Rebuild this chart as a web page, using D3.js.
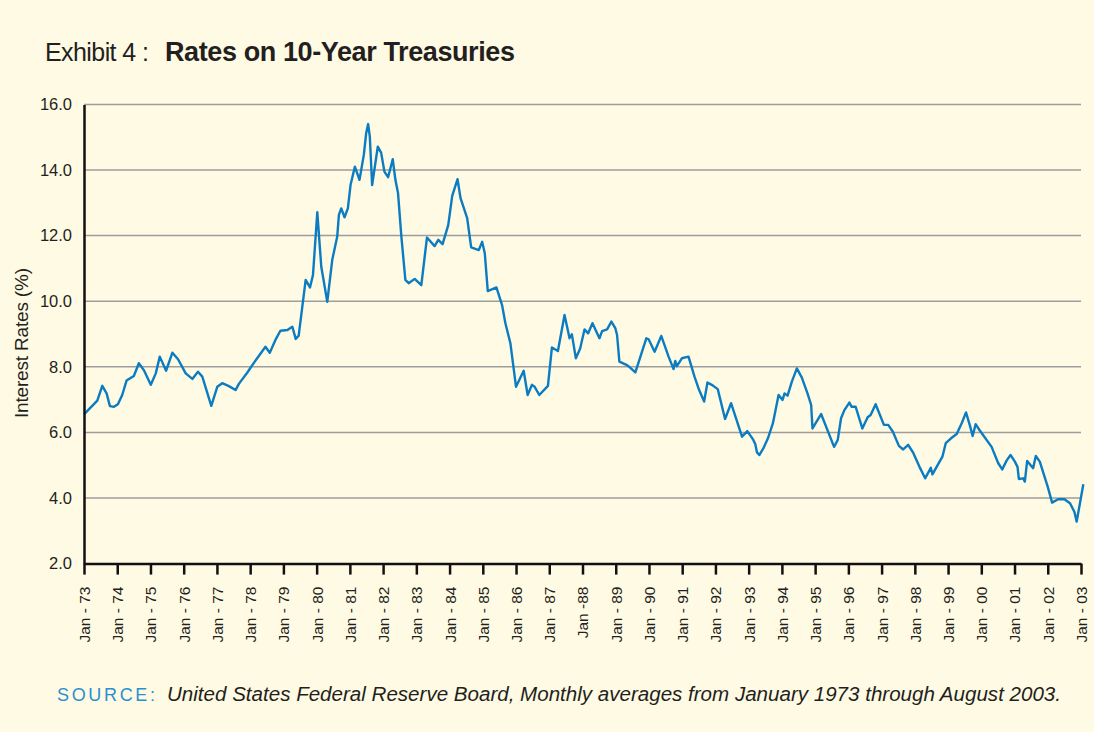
<!DOCTYPE html>
<html lang="en">
<head>
<meta charset="UTF-8">
<title>Rates on 10-Year Treasuries</title>
<script src="https://d3js.org/d3.v7.min.js"></script>
<style>
  body { margin: 0; background: #fffae3; }
  .line { fill: none; stroke: #0b7cc1; stroke-width: 2.4px; stroke-linejoin: round; }
  .grid line { stroke: #9d9d9d; stroke-width: 1.5px; }
  .axis path, .axis line { stroke: #111; stroke-width: 2.5px; }
  .axis text { font-family: "Liberation Sans Narrow", "Liberation Sans", sans-serif; font-size: 15.5px; fill: #231f20; }
  .y-axis text { font-size: 16.5px; }
</style>
</head>
<body>
<div id="chart"></div>
<script>
// vertices of the monthly series (decimal year, percent)
const dates = [
  1973.00, 1973.40, 1973.55, 1973.68, 1973.78, 1973.90,
  1974.02, 1974.15, 1974.28, 1974.50, 1974.65, 1974.80,
  1975.01, 1975.16, 1975.28, 1975.47, 1975.66, 1975.83,
  1976.06, 1976.26, 1976.43, 1976.56, 1976.83,
  1977.01, 1977.16, 1977.36, 1977.56, 1977.66, 1977.91,
  1978.09, 1978.26, 1978.46, 1978.59, 1978.76, 1978.91,
  1979.12, 1979.27, 1979.37, 1979.46, 1979.67, 1979.80, 1979.89,
  1980.02, 1980.14, 1980.32, 1980.47, 1980.62, 1980.67, 1980.74, 1980.84, 1980.94,
  1981.02, 1981.15, 1981.29, 1981.42, 1981.49, 1981.55, 1981.60, 1981.67, 1981.84, 1981.94,
  1982.04, 1982.15, 1982.29, 1982.37, 1982.45, 1982.55, 1982.67, 1982.77, 1982.95,
  1983.15, 1983.32, 1983.55, 1983.66, 1983.79, 1983.96,
  1984.08, 1984.24, 1984.33, 1984.53, 1984.65, 1984.88, 1984.98,
  1985.06, 1985.15, 1985.41, 1985.58, 1985.68, 1985.83,
  1986.00, 1986.23, 1986.35, 1986.48, 1986.56, 1986.70, 1986.96,
  1987.08, 1987.26, 1987.46, 1987.61, 1987.68, 1987.80, 1987.93,
  1988.06, 1988.17, 1988.30, 1988.51, 1988.59, 1988.74, 1988.87, 1988.99,
  1989.04, 1989.11, 1989.34, 1989.44, 1989.59, 1989.76, 1989.92, 1989.99,
  1990.17, 1990.37, 1990.59, 1990.74, 1990.79, 1990.84, 1990.99,
  1991.19, 1991.37, 1991.51, 1991.66, 1991.76, 1991.89,
  1992.07, 1992.29, 1992.47, 1992.80, 1992.96,
  1993.14, 1993.20, 1993.25, 1993.32, 1993.45, 1993.58, 1993.73, 1993.90,
  1994.02, 1994.08, 1994.17, 1994.30, 1994.45, 1994.60, 1994.77, 1994.88, 1994.92,
  1995.18, 1995.57, 1995.68, 1995.78, 1995.88,
  1996.03, 1996.10, 1996.22, 1996.42, 1996.58, 1996.67, 1996.82,
  1997.07, 1997.20, 1997.34, 1997.52, 1997.65, 1997.80, 1997.95,
  1998.16, 1998.31, 1998.48, 1998.53, 1998.69, 1998.83, 1998.93,
  1999.09, 1999.26, 1999.41, 1999.54, 1999.66, 1999.74, 1999.83, 1999.96,
  2000.31, 2000.51, 2000.63, 2000.76, 2000.88,
  2001.01, 2001.09, 2001.13, 2001.26, 2001.31, 2001.38, 2001.56, 2001.64, 2001.76,
  2002.00, 2002.13, 2002.31, 2002.50, 2002.67, 2002.80, 2002.87,
  2003.07
];
const rates = [
  6.55, 6.97, 7.42, 7.19, 6.80, 6.78,
  6.86, 7.14, 7.58, 7.72, 8.11, 7.90,
  7.45, 7.80, 8.31, 7.88, 8.43, 8.23,
  7.80, 7.63, 7.85, 7.70, 6.81,
  7.39, 7.50, 7.41, 7.29, 7.48, 7.82,
  8.09, 8.33, 8.61, 8.43, 8.82, 9.10,
  9.12, 9.22, 8.85, 8.95, 10.65, 10.42, 10.80,
  12.71, 11.05, 9.98, 11.26, 11.97, 12.63, 12.83, 12.56, 12.83,
  13.54, 14.10, 13.70, 14.46, 15.12, 15.40, 15.02, 13.54, 14.71, 14.53,
  13.95, 13.78, 14.33, 13.70, 13.29, 11.97, 10.65, 10.55, 10.68,
  10.49, 11.94, 11.68, 11.87, 11.74, 12.32,
  13.21, 13.72, 13.14, 12.53, 11.64, 11.56, 11.81,
  11.46, 10.31, 10.42, 9.88, 9.33, 8.72,
  7.39, 7.88, 7.14, 7.45, 7.39, 7.14, 7.42,
  8.59, 8.48, 9.58, 8.87, 8.99, 8.26, 8.56,
  9.14, 9.02, 9.33, 8.87, 9.09, 9.14, 9.38, 9.17,
  8.97, 8.16, 8.05, 7.97, 7.83, 8.36, 8.87, 8.84,
  8.46, 8.94, 8.31, 7.93, 8.18, 8.02, 8.26,
  8.31, 7.70, 7.29, 6.94, 7.52, 7.45,
  7.32, 6.41, 6.89, 5.87, 6.04,
  5.77, 5.64, 5.39, 5.31, 5.53, 5.82, 6.28, 7.14,
  6.99, 7.19, 7.12, 7.55, 7.95, 7.67, 7.19, 6.84, 6.12,
  6.56, 5.56, 5.77, 6.43, 6.68,
  6.91, 6.78, 6.78, 6.12, 6.46, 6.53, 6.86,
  6.23, 6.23, 6.02, 5.59, 5.48, 5.62, 5.38,
  4.91, 4.60, 4.92, 4.72, 5.01, 5.26, 5.67,
  5.82, 5.95, 6.28, 6.61, 6.20, 5.89, 6.25, 6.05,
  5.56, 5.06, 4.87, 5.14, 5.31,
  5.11, 4.95, 4.58, 4.60, 4.50, 5.13, 4.91, 5.28, 5.11,
  4.34, 3.86, 3.96, 3.96, 3.84, 3.58, 3.28,
  4.42
];

const tickYears = d3.range(1973, 2004);
const tickLabels = [
  "Jan - 73", "Jan - 74", "Jan - 75", "Jan - 76", "Jan - 77", "Jan - 78", "Jan - 79",
  "Jan - 80", "Jan - 81", "Jan - 82", "Jan - 83", "Jan - 84", "Jan - 85", "Jan - 86",
  "Jan - 87", "Jan -88", "Jan - 89", "Jan - 90", "Jan - 91", "Jan - 92", "Jan - 93",
  "Jan - 94", "Jan - 95", "Jan - 96", "Jan - 97", "Jan - 98", "Jan - 99", "Jan - 00",
  "Jan - 01", "Jan - 02", "Jan - 03"
];
const yTicks = [2, 4, 6, 8, 10, 12, 14, 16];

const width = 1094, height = 732;
const plot = {left: 84, right: 1081, top: 104.4, bottom: 563.6};

const svg = d3.select("#chart").append("svg")
    .attr("width", width)
    .attr("height", height);

svg.append("rect").attr("width", width).attr("height", height).attr("fill", "#fffae3");

const x = d3.scaleLinear().domain([1973, 2003]).range([plot.left, plot.right]);
const y = d3.scaleLinear().domain([2, 16]).range([plot.bottom, plot.top]);

// title
svg.append("text")
    .attr("x", 45).attr("y", 61)
    .attr("textLength", 104)
    .style("font-family", "'Liberation Sans', sans-serif")
    .style("font-size", "25px")
    .attr("fill", "#231f20")
    .text("Exhibit 4 :");
svg.append("text")
    .attr("x", 165).attr("y", 61)
    .attr("textLength", 350)
    .style("font-family", "'Liberation Sans', sans-serif")
    .style("font-size", "27px")
    .style("font-weight", "bold")
    .attr("fill", "#231f20")
    .text("Rates on 10-Year Treasuries");

// gridlines
svg.append("g").attr("class", "grid")
    .selectAll("line")
    .data(yTicks.filter(d => d > 2))
    .join("line")
    .attr("x1", plot.left).attr("x2", plot.right)
    .attr("y1", d => y(d)).attr("y2", d => y(d));

// the series
const line = d3.line().x(d => x(d[0])).y(d => y(d[1]));
svg.append("path")
    .datum(d3.zip(dates, rates))
    .attr("class", "line")
    .attr("d", line);

// y axis
svg.append("g").attr("class", "axis y-axis")
    .attr("transform", `translate(${plot.left},0)`)
    .call(d3.axisLeft(y).tickValues(yTicks).tickFormat(d3.format(".1f")).tickSize(0).tickPadding(12));

// x axis
const xAxis = svg.append("g").attr("class", "axis")
    .attr("transform", `translate(0,${plot.bottom})`)
    .call(d3.axisBottom(x).tickValues(tickYears).tickFormat((d, i) => tickLabels[i]).tickSize(11).tickSizeOuter(0));
xAxis.selectAll("text")
    .attr("transform", "rotate(-90)")
    .attr("text-anchor", "end")
    .attr("x", -23)
    .attr("y", 0)
    .attr("dy", "0.35em");

// y axis title
svg.append("text")
    .attr("transform", "translate(28,343) rotate(-90)")
    .attr("text-anchor", "middle")
    .attr("textLength", 150)
    .style("font-family", "'Liberation Sans', sans-serif")
    .style("font-size", "19px")
    .attr("fill", "#231f20")
    .text("Interest Rates (%)");

// source note
svg.append("text")
    .attr("x", 57).attr("y", 701)
    .attr("textLength", 98)
    .attr("lengthAdjust", "spacing")
    .style("font-family", "'Liberation Sans Narrow', 'Liberation Sans', sans-serif")
    .style("font-size", "18px")
    .attr("fill", "#2a90d0")
    .text("SOURCE:");
svg.append("text")
    .attr("x", 167).attr("y", 701)
    .attr("textLength", 894)
    .attr("lengthAdjust", "spacingAndGlyphs")
    .style("font-family", "'Liberation Sans', sans-serif")
    .style("font-size", "19.5px")
    .style("font-style", "italic")
    .attr("fill", "#231f20")
    .text("United States Federal Reserve Board, Monthly averages from January 1973 through August 2003.");
</script>
</body>
</html>
